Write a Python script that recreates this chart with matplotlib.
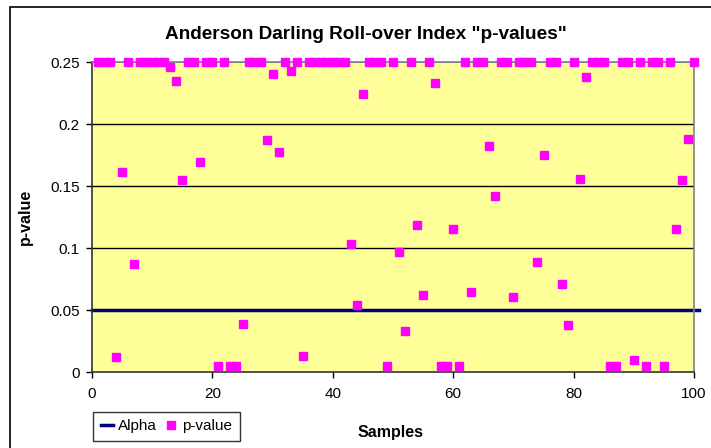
import matplotlib
matplotlib.use('Agg')
import matplotlib.pyplot as plt
import numpy as np
from matplotlib.patches import Rectangle

plt.rcParams['font.family'] = ['Liberation Sans', 'DejaVu Sans']

# data
samples = np.arange(1, 101)
p_values = [
    0.25, 0.25, 0.25, 0.012, 0.161, 0.25, 0.0875, 0.25, 0.25, 0.25,
    0.25, 0.25, 0.246, 0.235, 0.1545, 0.25, 0.25, 0.1695, 0.25, 0.25,
    0.005, 0.25, 0.005, 0.005, 0.0387, 0.25, 0.25, 0.25, 0.187, 0.240,
    0.1775, 0.25, 0.2424, 0.25, 0.0132, 0.25, 0.25, 0.25, 0.25, 0.25,
    0.25, 0.25, 0.1036, 0.0538, 0.2241, 0.25, 0.25, 0.25, 0.005, 0.25,
    0.0966, 0.0328, 0.25, 0.1186, 0.0619, 0.25, 0.2332, 0.005, 0.005, 0.1152,
    0.005, 0.25, 0.0643, 0.25, 0.25, 0.1821, 0.1418, 0.25, 0.25, 0.0605,
    0.25, 0.25, 0.25, 0.0885, 0.1754, 0.25, 0.25, 0.0713, 0.0377, 0.25,
    0.1557, 0.2378, 0.25, 0.25, 0.25, 0.005, 0.005, 0.25, 0.25, 0.01,
    0.25, 0.005, 0.25, 0.25, 0.005, 0.25, 0.1152, 0.1545, 0.188, 0.25,
]
alpha = 0.05
x_ticks = [0, 20, 40, 60, 80, 100]
y_ticks = [0, 0.05, 0.1, 0.15, 0.2, 0.25]
y_tick_labels = ['0', '0.05', '0.1', '0.15', '0.2', '0.25']

W, H = 711, 448
fig = plt.figure(figsize=(W / 100, H / 100), dpi=100)
fig.patch.set_facecolor('white')

# outer chart border (runs off the right/bottom edge in the original)
fig.patches.append(Rectangle((10 / W, -0.1), 1.2, 1 - 7 / H + 0.1, transform=fig.transFigure,
                             fill=False, edgecolor='black', linewidth=1.2))

ax = fig.add_axes([92 / W, 1 - 372 / H, (694 - 92) / W, (372 - 62) / H])
ax.set_facecolor('#FFFF99')
ax.set_xlim(0, 100)
ax.set_ylim(0, 0.25)

for y in y_ticks[1:-1]:
    ax.axhline(y, color='black', linewidth=1.0, zorder=1)
ax.axhline(0.25, color='#808080', linewidth=1.2, zorder=1)

line_alpha = ax.axhline(alpha, xmin=0, xmax=1.008, color='#000080', linewidth=2.5,
                        zorder=2, clip_on=False, label='Alpha')
pts, = ax.plot(samples, p_values, linestyle='none', marker='s', markersize=6,
               color='#FF00FF', markeredgecolor='#FF00FF', zorder=3, clip_on=False,
               label='p-value')

for s in ['top', 'right']:
    ax.spines[s].set_color('#808080')
    ax.spines[s].set_linewidth(1.2)
for s in ['left', 'bottom']:
    ax.spines[s].set_color('#333333')
    ax.spines[s].set_linewidth(1.2)

ax.set_xticks(x_ticks)
ax.set_yticks(y_ticks)
ax.set_yticklabels(y_tick_labels)
ax.tick_params(direction='out', length=4, width=1, labelsize=11)
ax.tick_params(axis='x', pad=7)
ax.tick_params(axis='y', pad=5)

fig.text(366 / W, 1 - 39 / H, 'Anderson Darling Roll-over Index "p-values"',
         fontsize=13.7, fontweight='bold', ha='center', va='baseline')
ax.set_xlabel('Samples', fontsize=11.5, fontweight='bold')
ax.set_ylabel('p-value', fontsize=11.5, fontweight='bold')
ax.xaxis.set_label_coords((391 - 92) / (694 - 92), -(425 - 372) / (372 - 62))
ax.yaxis.set_label_coords(-(92 - 33) / (694 - 92), 0.5)

leg = fig.legend(handles=[line_alpha, pts], loc='lower left',
                 bbox_to_anchor=(93 / W, 1 - 441 / H), ncol=2, frameon=True,
                 fancybox=False, fontsize=11, handlelength=0.8, handletextpad=0.35,
                 columnspacing=0.5, borderpad=0.5, borderaxespad=0, markerscale=1.0)
leg.get_frame().set_edgecolor('black')
leg.get_frame().set_linewidth(1.0)

plt.savefig('out.png', dpi=100)
